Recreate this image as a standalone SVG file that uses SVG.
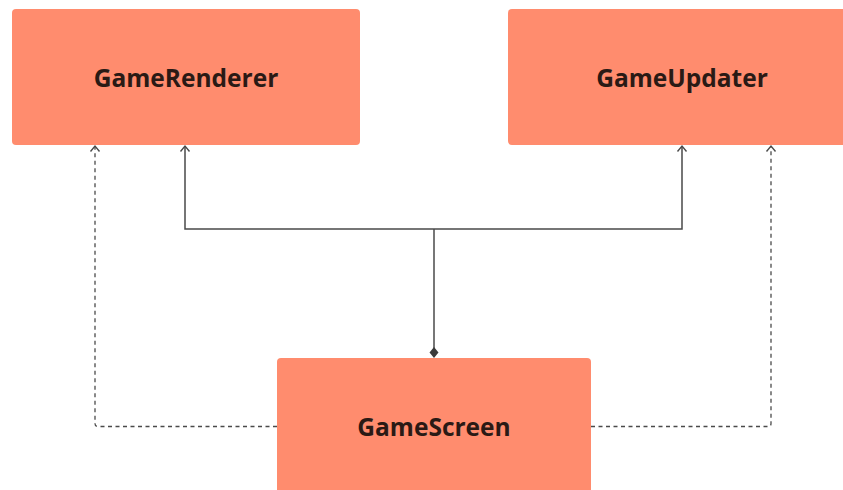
<svg xmlns="http://www.w3.org/2000/svg" width="843" height="490" viewBox="0 0 843 490">
  <style>
    .box { fill: #FF8C6E; }
    .label { font-family: "Open Sans", "Liberation Sans", sans-serif; font-weight: 700; font-size: 24.5px; fill: #2a1a15; text-anchor: middle; }
    .solid { fill: none; stroke: #4a4a4a; stroke-width: 1.5; }
    .dashed { fill: none; stroke: #4a4a4a; stroke-width: 1.3; stroke-dasharray: 4 3.5; }
  </style>
  <defs>
    <!-- open chevron, tip at the path end -->
    <marker id="open-arrow" markerWidth="12" markerHeight="12" refX="10" refY="6" orient="auto-start-reverse" markerUnits="userSpaceOnUse" viewBox="0 0 12 12">
      <path d="M4.5,1.5 L10,6 L4.5,10.5" fill="none" stroke="#4a4a4a" stroke-width="1.4"/>
    </marker>
  </defs>
  <rect width="843" height="490" fill="#ffffff"/>

  <g id="GameRenderer">
    <rect class="box" x="12" y="9" width="348" height="136" rx="4"/>
    <text class="label" x="186" y="87">GameRenderer</text>
  </g>

  <g id="GameUpdater">
    <rect class="box" x="508" y="9" width="345" height="136" rx="4"/>
    <text class="label" x="682" y="87">GameUpdater</text>
  </g>

  <g id="GameScreen">
    <rect class="box" x="277" y="358" width="314" height="142" rx="4"/>
    <text class="label" x="434" y="436">GameScreen</text>
  </g>

  <g id="connectors">
    <!-- composition: GameScreen owns renderer and updater -->
    <path class="solid" d="M185,146 V229 H682 V146" marker-start="url(#open-arrow)" marker-end="url(#open-arrow)"/>
    <path class="solid" d="M434,229 V348"/>
    <path d="M434,347 L438.5,352.5 L434,358 L429.5,352.5 Z" fill="#3a3a3a"/>
    <!-- dependencies -->
    <path class="dashed" d="M277,426.5 H98 Q95,426.5 95,423.5 V146" marker-end="url(#open-arrow)"/>
    <path class="dashed" d="M591,426.5 H768 Q771,426.5 771,423.5 V146" marker-end="url(#open-arrow)"/>
  </g>
</svg>
